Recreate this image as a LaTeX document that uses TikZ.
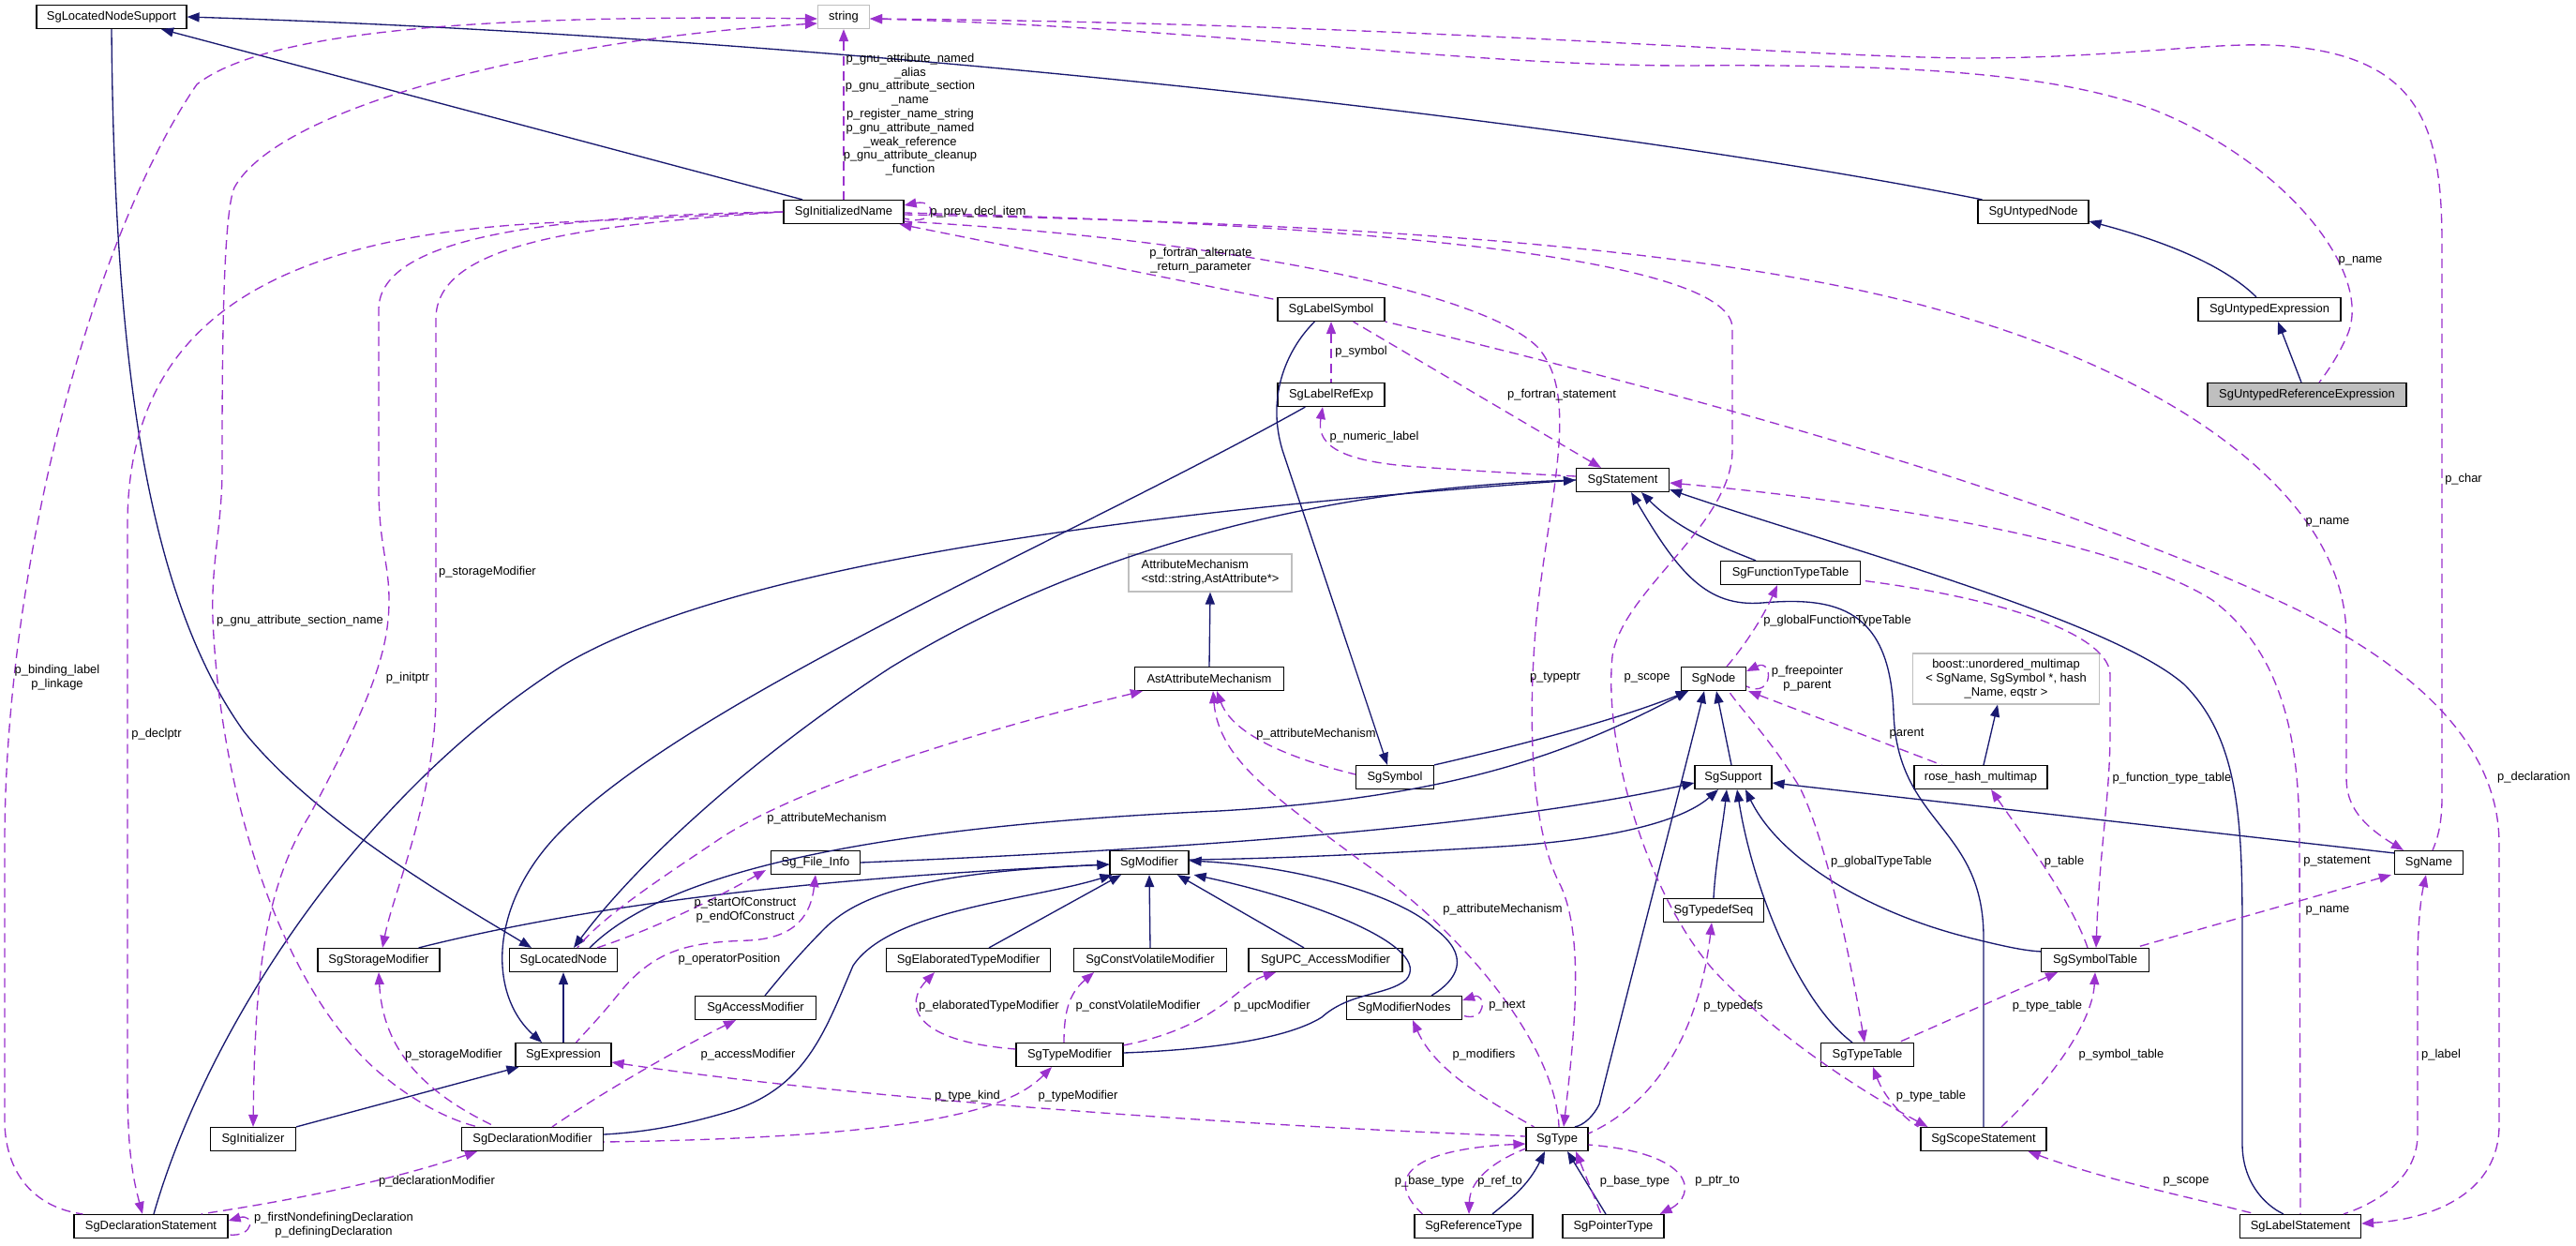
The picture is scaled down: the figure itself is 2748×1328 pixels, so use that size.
\documentclass[tikz,border=0pt]{standalone}
\usepackage{fontspec}
\setmainfont{Liberation Sans}
\usetikzlibrary{arrows.meta,calc}
\definecolor{mblue}{HTML}{191970}
\definecolor{purp}{HTML}{9A32CD}
\definecolor{gborder}{HTML}{BFBFBF}
\begin{document}
\begin{tikzpicture}[x=0.75pt,y=-0.75pt,
  font=\fontsize{9.7pt}{11.1pt}\selectfont,
  cls/.style={draw=black, line width=0.9pt, fill=white, minimum height=18.75pt, inner sep=0pt},
  ext/.style={cls, draw=gborder},
  inh/.style={draw=mblue, line width=1pt, {Triangle[length=9.75pt,width=7.5pt]}-},
  use/.style={draw=purp, line width=1pt, dash pattern=on 7.5pt off 4.5pt, {Triangle[length=9.75pt,width=7.5pt]}-},
  lbl/.style={inner sep=0pt, align=center}
]
\useasboundingbox[fill=white] (0,0) rectangle (2748,1328);

% ---------- nodes ----------
\node[cls, minimum width=120pt] (lns) at (119,18) {SgLocatedNodeSupport};
\node[ext, minimum width=41.25pt] (str) at (900,18) {string};
\node[cls, minimum width=96pt] (ini) at (900,226) {SgInitializedName};
\node[cls, minimum width=88.5pt] (unode) at (2169,226) {SgUntypedNode};
\node[cls, minimum width=114pt] (uexp) at (2421,330) {SgUntypedExpression};
\node[cls, fill=gborder, minimum width=159pt] (uref) at (2461,421) {SgUntypedReferenceExpression};
\node[cls, minimum width=85.5pt] (lsym) at (1420,330) {SgLabelSymbol};
\node[cls, minimum width=85.5pt] (lref) at (1420,421) {SgLabelRefExp};
\node[cls, minimum width=74.25pt] (stmt) at (1731,512) {SgStatement};
\node[cls, minimum width=111.75pt] (ftt) at (1910,611) {SgFunctionTypeTable};
\node[ext, minimum width=130.5pt, minimum height=30pt, align=left] (attm) at (1291,611) {AttributeMechanism\\{<}std::string,AstAttribute*{>}};
\node[cls, minimum width=119.25pt] (aam) at (1290,724) {AstAttributeMechanism};
\node[cls, minimum width=51.75pt] (node) at (1828,724) {SgNode};
\node[ext, minimum width=149.25pt, minimum height=40.5pt, align=center] (boost) at (2140,724) {boost::unordered\_multimap\\{<} SgName, SgSymbol *, hash\\\_Name, eqstr {>}};
\node[cls, minimum width=62.25pt] (sym) at (1488,829) {SgSymbol};
\node[cls, minimum width=61.5pt] (sup) at (1849,829) {SgSupport};
\node[cls, minimum width=106.5pt] (rhm) at (2113,829) {rose\_hash\_multimap};
\node[cls, minimum width=54.75pt] (sgname) at (2591,920) {SgName};
\node[cls, minimum width=71.25pt] (fi) at (870,920) {Sg\_File\_Info};
\node[cls, minimum width=63pt] (mod) at (1226,920) {SgModifier};
\node[cls, minimum width=80.25pt] (tds) at (1828,971) {SgTypedefSeq};
\node[cls, minimum width=97.5pt] (stor) at (404,1024) {SgStorageModifier};
\node[cls, minimum width=86.25pt] (lnode) at (601,1024) {SgLocatedNode};
\node[cls, minimum width=131.25pt] (etm) at (1033,1024) {SgElaboratedTypeModifier};
\node[cls, minimum width=122.25pt] (cvm) at (1227,1024) {SgConstVolatileModifier};
\node[cls, minimum width=123pt] (upc) at (1414,1024) {SgUPC\_AccessModifier};
\node[cls, minimum width=86.25pt] (symt) at (2235,1024) {SgSymbolTable};
\node[cls, minimum width=96.75pt] (acc) at (806,1075) {SgAccessModifier};
\node[cls, minimum width=92.25pt] (mnodes) at (1498,1075) {SgModifierNodes};
\node[cls, minimum width=76.5pt] (expr) at (601,1125) {SgExpression};
\node[cls, minimum width=85.5pt] (tmod) at (1141,1125) {SgTypeModifier};
\node[cls, minimum width=74.25pt] (ttab) at (1992,1125) {SgTypeTable};
\node[cls, minimum width=68.25pt] (initz) at (270,1215) {SgInitializer};
\node[cls, minimum width=113.25pt] (dmod) at (568,1215) {SgDeclarationModifier};
\node[cls, minimum width=49.5pt] (type) at (1661,1215) {SgType};
\node[cls, minimum width=100.5pt] (scope) at (2116,1215) {SgScopeStatement};
\node[cls, minimum width=123pt] (dstmt) at (161,1308) {SgDeclarationStatement};
\node[cls, minimum width=94.5pt] (reft) at (1572,1308) {SgReferenceType};
\node[cls, minimum width=81pt] (ptrt) at (1721,1308) {SgPointerType};
\node[cls, minimum width=96.75pt] (lstmt) at (2454,1308) {SgLabelStatement};

% ---------- inheritance edges ----------
\draw[inh] ($(lnode.north)+(-34,0)$) .. controls (500,970) and (340,880) .. (260,780) .. controls (160,640) and (122,400) .. (lns.south);
\draw[inh] ($(lns.south)+(53,0)$) -- ($(ini.north)+(-44,0)$);
\draw[inh] (lns.east) .. controls (900,40) and (1700,130) .. ($(unode.north west)+(5,0)$);
\draw[inh] ($(unode.east)+(0,10)$) .. controls (2300,255) and (2370,280) .. ($(uexp.north)+(-14,0)$);
\draw[inh] ($(uexp.south)+(9,0)$) -- ($(uref.north)+(-6,0)$);
\draw[inh] (lnode.south) -- (expr.north);
\draw[inh] ($(lnode.north)+(11,0)$) .. controls (680,920) and (800,810) .. (950,712) .. controls (1150,590) and (1400,520) .. (stmt.west);
\draw[inh] (stmt.west) .. controls (1300,540) and (800,590) .. (600,710) .. controls (380,850) and (220,1100) .. ($(dstmt.north)+(3,0)$);
\draw[inh] ($(expr.north)+(-23,0)$) .. controls (520,1060) and (520,960) .. (605,880) .. controls (750,740) and (1150,570) .. ($(lref.south west)+(30,0)$);
\draw[inh] ($(expr.south west)+(4,0)$) -- (initz.north east);
\draw[inh] ($(stmt.south)+(20,0)$) .. controls (1790,565) and (1840,585) .. ($(ftt.north)+(-37,0)$);
\draw[inh] ($(stmt.south)+(9,0)$) .. controls (1790,610) and (1820,648) .. (1880,643) .. controls (1960,636) and (2016,650) .. (2020,760) .. controls (2024,880) and (2116,880) .. (2116,1000) -- (scope.north);
\draw[inh] ($(stmt.south east)+(0,-3)$) .. controls (1950,580) and (2250,660) .. (2330,730) .. controls (2390,790) and (2392,880) .. (2392,1000) -- (2392,1220) .. controls (2392,1260) and (2415,1285) .. ($(lstmt.north)+(-18,0)$);
\draw[inh] ($(node.south west)+(8,0)$) .. controls (1680,800) and (1560,850) .. (1300,865) .. controls (850,885) and (690,950) .. ($(lnode.north east)+(-30,0)$);
\draw[inh] ($(node.south west)+(8,0)$) .. controls (1720,770) and (1600,800) .. (sym.north east);
\draw[inh] ($(node.south)+(3,0)$) -- ($(sup.north)+(-2,0)$);
\draw[inh] ($(node.south)+(-10,0)$) .. controls (1790,850) and (1720,1120) .. (1706,1178) .. controls (1700,1190) and (1690,1200) .. ($(type.north)+(19,0)$);
\draw[inh] ($(sym.north)+(-8,0)$) -- (1368,480) .. controls (1350,420) and (1375,370) .. ($(lsym.south west)+(40,0)$);
\draw[inh] (attm.south) -- (aam.north);
\draw[inh] ($(boost.south)+(-9,0)$) -- ($(rhm.north)+(3,0)$);
\draw[inh] ($(sup.west)+(0,6)$) .. controls (1650,870) and (1400,900) .. (fi.east);
\draw[inh] ($(sup.south)+(-16,0)$) .. controls (1790,880) and (1700,897) .. (1600,903) .. controls (1450,912) and (1350,916) .. ($(mod.east)+(0,-3)$);
\draw[inh] ($(sup.south)+(-7,0)$) .. controls (1838,880) and (1830,920) .. (tds.north);
\draw[inh] ($(sup.south)+(4,0)$) .. controls (1870,950) and (1920,1070) .. ($(ttab.north)+(-16,0)$);
\draw[inh] ($(sup.south)+(13,0)$) .. controls (1900,920) and (2000,975) .. (2100,1000) .. controls (2140,1010) and (2160,1014) .. ($(symt.north west)+(0,4)$);
\draw[inh] ($(sup.east)+(0,6)$) -- ($(sgname.north west)+(0,3)$);
\draw[inh] ($(mod.west)+(0,2)$) .. controls (900,935) and (650,960) .. ($(stor.north east)+(-23,0)$);
\draw[inh] ($(mod.west)+(0,2)$) .. controls (1000,930) and (920,950) .. (880,990) .. controls (850,1020) and (830,1045) .. ($(acc.north)+(10,0)$);
\draw[inh] ($(mod.south west)+(3,0)$) .. controls (1100,960) and (950,970) .. (910,1030) .. controls (880,1100) and (860,1160) .. (780,1185) .. controls (720,1203) and (680,1208) .. ($(dmod.east)+(0,-5)$);
\draw[inh] ($(mod.south)+(-30,0)$) -- ($(etm.north)+(22,0)$);
\draw[inh] (mod.south) -- (cvm.north);
\draw[inh] ($(mod.south)+(30,0)$) -- ($(upc.north)+(-23,0)$);
\draw[inh] ($(mod.south east)+(5,0)$) .. controls (1400,960) and (1530,1010) .. (1500,1045) .. controls (1480,1062) and (1440,1058) .. (1410,1085) .. controls (1370,1110) and (1280,1120) .. ($(tmod.east)+(0,-2)$);
\draw[inh] ($(mod.east)+(0,-2)$) .. controls (1400,925) and (1500,960) .. (1530,990) .. controls (1570,1020) and (1555,1045) .. ($(mnodes.north)+(29,0)$);
\draw[inh] ($(type.south)+(-13,0)$) .. controls (1630,1265) and (1610,1280) .. ($(reft.north)+(20,0)$);
\draw[inh] ($(type.south)+(11,0)$) -- ($(ptrt.north)+(-8,0)$);

% ---------- usage edges ----------
\draw[use] (str.south) -- (ini.north);
\draw[use] ($(ini.east)+(0,-7)$) .. controls (1000,212) and (1000,242) .. ($(ini.east)+(0,7)$);
\draw[use] ($(ini.south east)+(-5,0)$) -- ($(lsym.north west)+(0,3)$);
\draw[use] ($(str.west)+(0,2)$) .. controls (500,15) and (280,35) .. (210,90) .. controls (100,250) and (5,600) .. (5,900) -- (5,1200) .. controls (8,1265) and (50,1290) .. ($(dstmt.north west)+(10,0)$);
\draw[use] ($(str.west)+(0,7)$) .. controls (600,40) and (300,110) .. (250,200) .. controls (237,230) and (237,400) .. (237,500) .. controls (237,560) and (225,600) .. (227,660) .. controls (235,850) and (300,1050) .. (400,1140) .. controls (440,1175) and (480,1195) .. ($(dmod.north west)+(18,0)$);
\draw[use] ($(dstmt.north)+(-9,0)$) .. controls (140,1250) and (136,1220) .. (136,1150) -- (136,560) .. controls (136,350) and (280,250) .. (600,237) .. controls (700,233) and (780,228) .. (ini.west);
\draw[use] (initz.north) .. controls (272,1050) and (280,950) .. (330,870) .. controls (400,740) and (415,690) .. (415,640) .. controls (415,600) and (404,580) .. (404,520) -- (404,330) .. controls (404,250) and (600,230) .. (ini.west);
\draw[use] ($(stor.north)+(4,0)$) .. controls (420,950) and (465,850) .. (465,740) -- (465,340) .. controls (465,260) and (620,240) .. (ini.west);
\draw[use] ($(str.east)+(0,2)$) .. controls (1500,25) and (1900,60) .. (2100,62) .. controls (2250,62) and (2350,46) .. (2420,48) .. controls (2580,55) and (2605,130) .. (2605,260) -- (2605,850) .. controls (2605,880) and (2600,895) .. ($(sgname.north)+(4,0)$);
\draw[use] ($(str.east)+(0,2)$) .. controls (1300,30) and (1550,70) .. (1800,70) .. controls (2050,68) and (2200,80) .. (2300,118) .. controls (2440,175) and (2530,290) .. (2505,355) .. controls (2495,380) and (2480,400) .. ($(uref.north)+(13,0)$);
\draw[use] ($(stmt.north)+(-23,0)$) -- ($(lsym.south east)+(-34,0)$);
\draw[use] ($(sgname.north west)+(10,0)$) .. controls (2520,880) and (2503,860) .. (2503,830) -- (2503,680) .. controls (2503,520) and (2300,400) .. (2100,340) .. controls (1850,260) and (1400,237) .. ($(ini.east)+(0,3)$);
\draw[use] ($(scope.north west)+(8,0)$) .. controls (1960,1150) and (1880,1090) .. (1830,1037) .. controls (1760,960) and (1710,800) .. (1720,700) .. controls (1730,630) and (1848,560) .. (1848,480) -- (1848,350) .. controls (1848,280) and (1500,240) .. ($(ini.east)+(0,1)$);
\draw[use] ($(type.north)+(7,0)$) .. controls (1680,1100) and (1690,1000) .. (1665,945) .. controls (1630,880) and (1630,750) .. (1640,650) .. controls (1655,520) and (1685,420) .. (1640,370) .. controls (1580,310) and (1300,255) .. ($(ini.south east)+(0,-3)$);
\draw[use] ($(aam.south west)+(9,0)$) .. controls (1000,790) and (830,850) .. (760,900) .. controls (700,940) and (640,980) .. ($(lnode.north)+(15,0)$);
\draw[use] ($(fi.south west)+(-5,-5)$) .. controls (760,960) and (700,990) .. ($(lnode.north east)+(-22,0)$);
\draw[use] (fi.south) .. controls (865,975) and (850,1000) .. (800,1003) .. controls (740,1005) and (700,1010) .. (660,1060) .. controls (640,1085) and (625,1100) .. ($(expr.north east)+(-38,0)$);
\draw[use] ($(aam.south)+(8,0)$) .. controls (1310,770) and (1340,800) .. ($(sym.west)+(0,-3)$);
\draw[use] ($(aam.south)+(4,0)$) .. controls (1300,810) and (1360,850) .. (1450,917) .. controls (1570,1000) and (1660,1120) .. ($(type.north)+(2,0)$);
\draw[use] ($(node.east)+(0,-8)$) .. controls (1892,702) and (1892,746) .. ($(node.east)+(0,8)$);
\draw[use] ($(node.south east)+(2,0)$) -- ($(rhm.north west)+(30,0)$);
\draw[use] ($(ftt.south)+(-14,0)$) .. controls (1880,660) and (1860,690) .. ($(node.north)+(14,0)$);
\draw[use] ($(ttab.north)+(-3,0)$) .. controls (1975,1030) and (1950,900) .. (1920,840) .. controls (1890,790) and (1860,760) .. ($(node.south)+(16,0)$);
\draw[use] ($(rhm.south)+(11,0)$) .. controls (2150,880) and (2210,960) .. ($(symt.north)+(-8,0)$);
\draw[use] ($(symt.north)+(1,0)$) .. controls (2240,900) and (2251,850) .. (2251,780) -- (2251,720) .. controls (2251,680) and (2150,640) .. ($(ftt.east)+(0,8)$);
\draw[use] ($(sgname.south west)+(-3,0)$) -- ($(symt.north east)+(-16,0)$);
\draw[use] ($(symt.south)+(-40,0)$) -- ($(ttab.north east)+(-17,0)$);
\draw[use] (symt.south) .. controls (2232,1090) and (2190,1150) .. ($(scope.north)+(19,0)$);
\draw[use] ($(ttab.south)+(6,0)$) .. controls (2010,1170) and (2030,1192) .. ($(scope.north west)+(-2,0)$);
\draw[use] ($(scope.south east)+(-20,0)$) .. controls (2250,1260) and (2350,1280) .. ($(lstmt.north west)+(17,0)$);
\draw[use] ($(sgname.south)+(-3,0)$) .. controls (2582,960) and (2579,990) .. (2579,1030) -- (2579,1210) .. controls (2579,1260) and (2530,1285) .. ($(lstmt.north east)+(-19,0)$);
\draw[use] ($(lstmt.east)+(0,-3)$) .. controls (2600,1300) and (2666,1270) .. (2666,1200) -- (2666,900) .. controls (2666,780) and (2550,700) .. (2450,650) .. controls (2200,530) and (1800,420) .. ($(lsym.east)+(0,13)$);
\draw[use] ($(stmt.east)+(0,3)$) .. controls (1950,530) and (2250,570) .. (2360,640) .. controls (2440,700) and (2453,800) .. (2453,900) -- (lstmt.north);
\draw[use] ($(lref.south)+(-9,0)$) .. controls (1405,470) and (1420,490) .. (1500,497) .. controls (1580,503) and (1640,506) .. ($(stmt.west)+(0,-4)$);
\draw[use] (lsym.south) -- (lref.north);
\draw[use] ($(tds.south)+(-2,0)$) .. controls (1815,1080) and (1780,1170) .. ($(type.east)+(0,-6)$);
\draw[use] ($(mnodes.south)+(9,0)$) .. controls (1530,1140) and (1580,1170) .. ($(type.north west)+(9,0)$);
\draw[use] ($(mnodes.east)+(0,-8)$) .. controls (1586,1058) and (1586,1092) .. ($(mnodes.east)+(0,8)$);
\draw[use] ($(expr.east)+(0,8)$) .. controls (900,1170) and (1300,1200) .. ($(type.west)+(0,-3)$);
\draw[use] ($(tmod.south)+(-19,0)$) .. controls (1080,1180) and (1000,1213) .. ($(dmod.east)+(0,3)$);
\draw[use] ($(acc.south)+(-21,0)$) .. controls (740,1110) and (650,1160) .. ($(dmod.north)+(21,0)$);
\draw[use] (stor.south) .. controls (408,1110) and (440,1160) .. ($(dmod.north)+(-39,0)$);
\draw[use] ($(dmod.south)+(-59,0)$) .. controls (400,1265) and (280,1285) .. ($(dstmt.north east)+(-29,0)$);
\draw[use] ($(dstmt.east)+(0,-6)$) .. controls (272,1294) and (272,1320) .. ($(dstmt.east)+(0,9)$);
\draw[use] ($(etm.south)+(-36,0)$) .. controls (965,1070) and (970,1110) .. ($(tmod.west)+(0,-6)$);
\draw[use] ($(cvm.south)+(-60,0)$) .. controls (1140,1060) and (1135,1080) .. ($(tmod.north)+(-6,0)$);
\draw[use] ($(upc.south)+(-53,0)$) .. controls (1320,1050) and (1300,1095) .. ($(tmod.north east)+(0,3)$);
\draw[use] ($(type.west)+(0,5)$) .. controls (1520,1225) and (1470,1250) .. ($(reft.north west)+(9,0)$);
\draw[use] ($(reft.north)+(-5,0)$) .. controls (1568,1260) and (1590,1240) .. ($(type.south west)+(0,-3)$);
\draw[use] ($(type.south)+(20,0)$) -- ($(ptrt.north)+(-13,0)$);
\draw[use] ($(ptrt.north east)+(-5,0)$) .. controls (1810,1275) and (1810,1230) .. ($(type.east)+(0,6)$);

% ---------- edge labels ----------
\node[lbl] (l1) at (971,122) {p\_gnu\_attribute\_named\\\_alias\\p\_gnu\_attribute\_section\\\_name\\p\_register\_name\_string\\p\_gnu\_attribute\_named\\\_weak\_reference\\p\_gnu\_attribute\_cleanup\\\_function};
\node[lbl, anchor=west] (l2) at (992,226) {p\_prev\_decl\_item};
\node[lbl] (l3) at (1281,278) {p\_fortran\_alternate\\\_return\_parameter};
\node[lbl, anchor=west] (l4) at (1424,375) {p\_symbol};
\node[lbl] (l5) at (1666,421) {p\_fortran\_statement};
\node[lbl] (l6) at (2518,278) {p\_name};
\node[lbl] (l7) at (1466,466) {p\_numeric\_label};
\node[lbl] (l8) at (61,723) {p\_binding\_label\\p\_linkage};
\node[lbl] (l9) at (167,783) {p\_declptr};
\node[lbl] (l10) at (320,662) {p\_gnu\_attribute\_section\_name};
\node[lbl] (l11) at (435,723) {p\_initptr};
\node[lbl] (l12) at (520,610) {p\_storageModifier};
\node[lbl] (l13) at (1659,723) {p\_typeptr};
\node[lbl] (l14) at (1757,723) {p\_scope};
\node[lbl] (l15) at (1960,662) {p\_globalFunctionTypeTable};
\node[lbl] (l16) at (1928,724) {p\_freepointer\\p\_parent};
\node[lbl] (l17) at (2034,783) {parent};
\node[lbl] (l18) at (1404,783) {p\_attributeMechanism};
\node[lbl] (l19) at (882,873) {p\_attributeMechanism};
\node[lbl] (l20) at (2317,830) {p\_function\_type\_table};
\node[lbl] (l21) at (2483,557) {p\_name};
\node[lbl] (l22) at (2628,511) {p\_char};
\node[lbl] (l23) at (2703,829) {p\_declaration};
\node[lbl] (l24) at (795,971) {p\_startOfConstruct\\p\_endOfConstruct};
\node[lbl] (l25) at (778,1023) {p\_operatorPosition};
\node[lbl] (l26) at (798,1125) {p\_accessModifier};
\node[lbl] (l27) at (484,1125) {p\_storageModifier};
\node[lbl] (l28) at (466,1260) {p\_declarationModifier};
\node[lbl] (l29) at (356,1307) {p\_firstNondefiningDeclaration\\p\_definingDeclaration};
\node[lbl] (l30) at (1055,1073) {p\_elaboratedTypeModifier};
\node[lbl] (l31) at (1214,1073) {p\_constVolatileModifier};
\node[lbl] (l32) at (1357,1073) {p\_upcModifier};
\node[lbl] (l33) at (1032,1169) {p\_type\_kind};
\node[lbl] (l34) at (1150,1169) {p\_typeModifier};
\node[lbl] (l35) at (1603,970) {p\_attributeMechanism};
\node[lbl, anchor=west] (l36) at (1588,1073) {p\_next};
\node[lbl] (l37) at (1583,1125) {p\_modifiers};
\node[lbl] (l38) at (1849,1073) {p\_typedefs};
\node[lbl] (l39) at (2007,919) {p\_globalTypeTable};
\node[lbl] (l40) at (2202,919) {p\_table};
\node[lbl] (l41) at (2493,919) {p\_statement};
\node[lbl] (l42) at (2483,971) {p\_name};
\node[lbl] (l43) at (2184,1073) {p\_type\_table};
\node[lbl] (l44) at (2060,1169) {p\_type\_table};
\node[lbl] (l45) at (2263,1125) {p\_symbol\_table};
\node[lbl] (l46) at (2604,1125) {p\_label};
\node[lbl] (l47) at (2332,1260) {p\_scope};
\node[lbl] (l48) at (1525,1260) {p\_base\_type};
\node[lbl] (l49) at (1600,1260) {p\_ref\_to};
\node[lbl] (l50) at (1744,1260) {p\_base\_type};
\node[lbl] (l51) at (1832,1260) {p\_ptr\_to};
\end{tikzpicture}
\end{document}
